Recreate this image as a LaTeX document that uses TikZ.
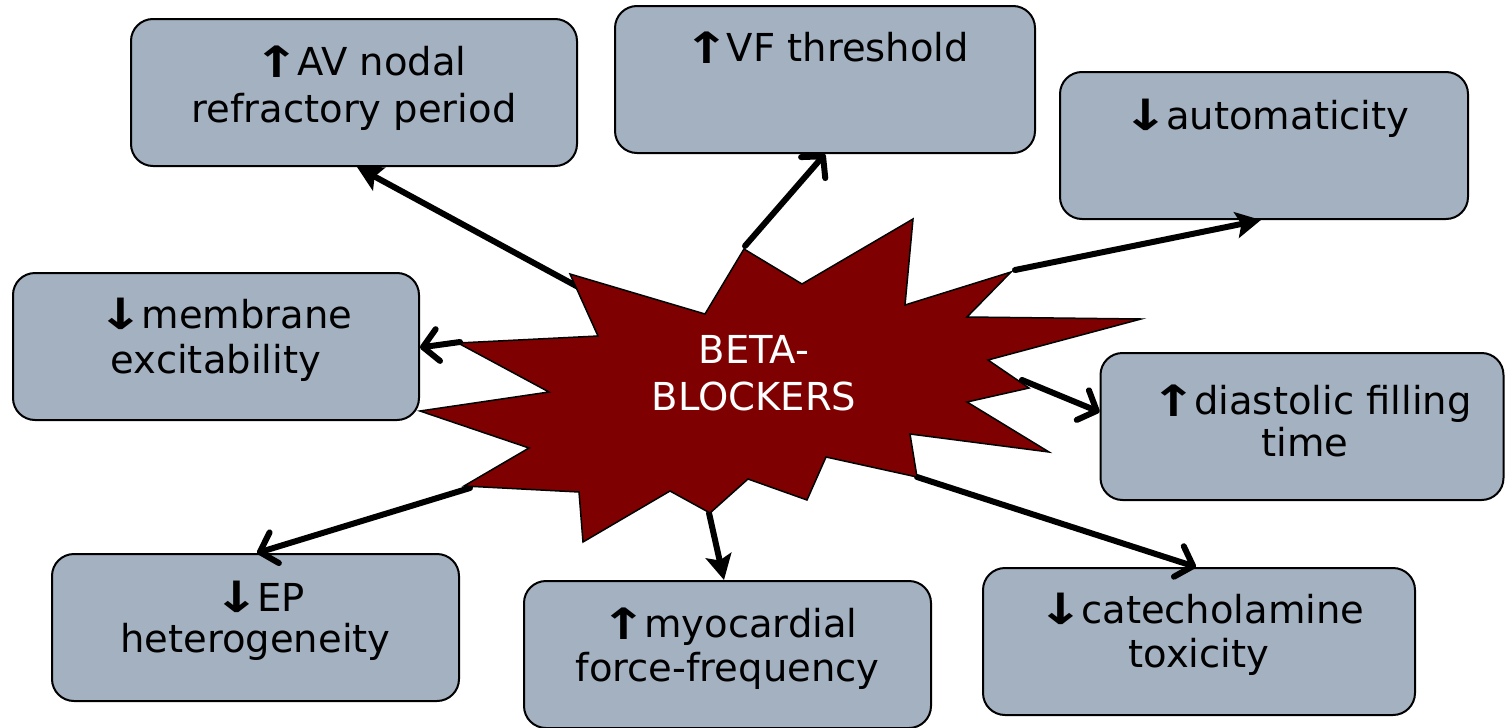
\documentclass[tikz,border=0pt]{standalone}
\usepackage{fontspec}
\setmainfont{DejaVu Sans}
\usetikzlibrary{arrows.meta}
\definecolor{boxfill}{HTML}{A3B1C1}
\definecolor{starfill}{HTML}{7F0000}
\newcommand{\myup}{\raisebox{-2pt}{\scalebox{1.45}[1.12]{\bfseries ↑}}\kern-3pt}
\newcommand{\mydown}{\raisebox{-1pt}{\scalebox{1.45}[1.12]{\bfseries ↓}}\kern-3pt}
\begin{document}
\begin{tikzpicture}[x=1pt,y=-1pt,
  box/.style={draw, line width=2pt, fill=boxfill, rounded corners=22pt, minimum height=147pt, inner sep=0pt},
  txt/.style={anchor=base, inner sep=0pt, font=\fontsize{38.5}{46}\selectfont},
  startxt/.style={anchor=base, inner sep=0pt, text=white, font=\fontsize{38.5}{46}\selectfont},
  conn/.style={line width=6pt, line cap=round},
  barb/.style={conn, -{Straight Barb[length=15pt,width=32pt,line cap=round,line join=round]}},
  solid tip/.style={conn, -{Stealth[length=25pt,width=26pt,inset=5pt]}}]
\useasboundingbox (0,0) rectangle (1505,728);

% boxes
\node[box, minimum width=446pt] (b1) at (354,92.5) {};
\node[box, minimum width=420pt] (b2) at (825,79.5) {};
\node[box, minimum width=408pt] (b3) at (1264,145.5) {};
\node[box, minimum width=406pt] (b4) at (216,346.5) {};
\node[box, minimum width=403pt] (b5) at (1302,426.5) {};
\node[box, minimum width=407pt] (b6) at (255.5,627.5) {};
\node[box, minimum width=407pt] (b7) at (727.5,654.5) {};
\node[box, minimum width=432pt] (b8) at (1199,641.5) {};

% texts
\node[txt] (t1a) at (360,75) {\myup AV nodal};
\node[txt] (t1b) at (354,122) {refractory period};
\node[txt] (t2a) at (826,61) {\myup VF threshold};
\node[txt] (t3a) at (1266,129) {\mydown automaticity};
\node[txt] (t4a) at (225,328) {\mydown membrane};
\node[txt] (t4b) at (216,373) {excitability};
\node[txt] (t5a) at (1311,414) {\myup diastolic filling};
\node[txt] (t5b) at (1305,456) {time};
\node[txt] (t6a) at (259,611) {\mydown EP};
\node[txt] (t6b) at (255.5,652) {heterogeneity};
\node[txt] (t7a) at (729,637) {\myup myocardial};
\node[txt] (t7b) at (727.5,681) {force-frequency};
\node[txt] (t8a) at (1201,623) {\mydown catecholamine};
\node[txt] (t8b) at (1199,667) {toxicity};

% connector start points on the star
\coordinate (s1) at (580,288);
\coordinate (s2) at (745,246);
\coordinate (s3) at (1015,270);
\coordinate (s4) at (460,342);
\coordinate (s5) at (1022,380);
\coordinate (s6) at (470,488);
\coordinate (s7) at (709,513);
\coordinate (s8) at (917,477);

\draw[solid tip] (s1) -- ([xshift=227pt]b1.south west);
\draw[barb] (s2) -- ([xshift=211pt]b2.south west);
\draw[solid tip] (s3) -- ([xshift=202pt]b3.south west);
\draw[barb] (s4) -- ([yshift=-1pt]b4.east);
\draw[barb] (s5) -- ([yshift=14.5pt]b5.west);
\draw[barb] (s6) -- ([xshift=206pt]b6.north west);
\draw[solid tip] (s7) -- ([xshift=201pt]b7.north west);
\draw[barb] (s8) -- ([xshift=214pt]b8.north west);

% star
\draw[fill=starfill, line width=1.5pt, line join=miter]
  (570,274) -- (705,314) -- (744,249) -- (802,284) -- (913,219) -- (905,305)
  -- (1011,272) -- (967,317) -- (1141,319) -- (988,360) -- (1029,388) -- (967,402)
  -- (1049,452) -- (910,434) -- (917,477) -- (826,457) -- (807,500) -- (748,479)
  -- (710,513) -- (670,491) -- (583,542) -- (579,492) -- (464,486) -- (529,448)
  -- (420,411) -- (549,392) -- (458,343) -- (598,336) -- cycle;
\node[startxt] (st1) at (754,363) {BETA-};
\node[startxt] (st2) at (754,410) {BLOCKERS};
\end{tikzpicture}
\end{document}
